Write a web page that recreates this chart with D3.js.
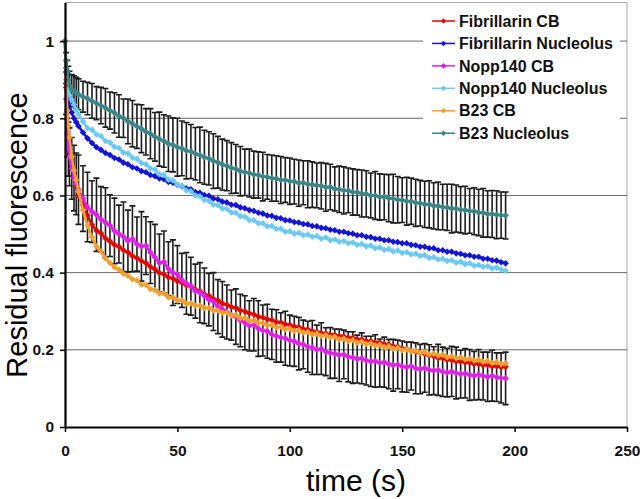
<!DOCTYPE html>
<html><head><meta charset="utf-8">
<script src="https://cdn.jsdelivr.net/npm/d3@7"></script>
<style>body{margin:0;background:#fff}svg{display:block}</style>
</head><body><svg id="c" width="640" height="499"></svg>
<script>
const times = [0,0.5,1,1.5,2,3,4,5,6,
8,10,12,14,16,18,20,22,24,26,28,30,32,34,36,38,40,42,44,46,48,50,52,54,56,58,60,62,64,66,68,70,72,74,76,78,80,82,84,86,88,90,92,94,96,98,100,
102,104,106,108,110,112,114,116,118,120,122,124,126,128,130,132,134,136,138,140,142,144,146,148,150,152,154,156,158,160,162,164,166,168,170,172,174,176,178,180,182,184,186,188,190,192,194,196];

const fibrillarinCB = [1,.88,.80,.75,.72,.68,.65,.625,.60,
.575,.548,.524,.509,.502,.489,.481,.472,.467,.458,.453,.443,.438,.430,.425,.415,.409,.399,.396,.388,.385,.378,.374,.367,.364,.356,.352,.344,.340,.332,.328,.320,.317,.311,.309,.302,.300,.294,.292,.286,.284,.279,.277,.272,.271,.266,.265,
.260,.259,.254,.253,.248,.247,.243,.243,.239,.239,.235,.235,.231,.231,.227,.227,.223,.223,.219,.219,.215,.214,.209,.208,.203,.202,.197,.196,.191,.190,.185,.184,.179,.178,.174,.174,.170,.170,.167,.167,.163,.164,.160,.161,.157,.158,.155,.156];

const fibrillarinNucleolus = [1,.92,.87,.845,.83,.815,.80,.79,.78,
.763,.748,.736,.725,.718,.710,.705,.697,.693,.685,.681,.673,.670,.663,.660,.653,.650,.644,.642,.635,.633,.627,.624,.618,.616,.609,.607,.601,.599,.592,.590,.584,.582,.576,.575,.569,.567,.562,.560,.555,.553,.548,.547,.542,.541,.536,.535,
.531,.530,.526,.525,.521,.520,.516,.515,.511,.510,.506,.506,.502,.501,.497,.497,.493,.492,.488,.488,.484,.484,.480,.479,.476,.476,.472,.471,.467,.467,.463,.463,.458,.458,.454,.454,.450,.449,.445,.445,.441,.441,.436,.436,.432,.431,.427,.424];

const nopp140CB = [1,.85,.76,.72,.70,.67,.645,.63,.615,
.592,.570,.558,.550,.538,.530,.522,.508,.500,.493,.482,.488,.474,.468,.470,.452,.440,.425,.428,.410,.400,.395,.380,.372,.365,.352,.348,.340,.330,.325,.312,.305,.298,.290,.286,.276,.270,.262,.265,.255,.250,.248,.240,.236,.232,.230,.224,
.222,.216,.214,.208,.206,.200,.203,.195,.192,.190,.186,.188,.182,.180,.176,.178,.172,.170,.171,.166,.168,.163,.160,.162,.157,.155,.158,.152,.150,.153,.148,.146,.148,.143,.141,.144,.140,.137,.139,.135,.133,.136,.132,.130,.133,.129,.127,.126];

const nopp140Nucleolus = [1,.93,.89,.87,.86,.848,.836,.822,.81,
.792,.774,.770,.758,.754,.741,.737,.726,.723,.711,.709,.698,.695,.684,.681,.670,.667,.655,.653,.641,.639,.628,.625,.613,.611,.600,.598,.588,.586,.576,.575,.566,.565,.556,.555,.546,.545,.536,.536,.528,.528,.520,.521,.513,.514,.506,.507,
.501,.503,.497,.499,.493,.495,.488,.491,.484,.486,.480,.482,.476,.478,.472,.474,.468,.470,.463,.465,.459,.461,.455,.457,.451,.453,.447,.449,.443,.445,.438,.440,.434,.436,.430,.432,.426,.428,.422,.424,.418,.420,.415,.417,.411,.413,.408,.405];

const b23CB = [1,.90,.82,.78,.75,.70,.665,.64,.61,
.562,.522,.492,.468,.455,.437,.425,.414,.408,.397,.392,.383,.380,.369,.368,.357,.355,.346,.346,.336,.336,.328,.328,.320,.321,.314,.315,.308,.309,.302,.302,.296,.296,.289,.290,.282,.283,.275,.276,.269,.270,.263,.265,.258,.260,.253,.255,
.249,.251,.245,.246,.240,.242,.236,.238,.232,.234,.227,.229,.223,.225,.219,.221,.215,.217,.211,.213,.207,.209,.203,.205,.199,.201,.196,.198,.192,.194,.188,.190,.185,.187,.181,.183,.178,.180,.175,.177,.172,.174,.169,.171,.166,.168,.163,.165];

const b23Nucleolus = [1,.95,.92,.90,.885,.875,.87,.866,.862,
.856,.851,.845,.839,.833,.827,.820,.814,.806,.800,.792,.786,.779,.773,.765,.760,.752,.746,.741,.734,.731,.725,.722,.716,.714,.708,.705,.699,.696,.689,.686,.680,.677,.671,.669,.663,.660,.658,.654,.653,.649,.648,.645,.644,.640,.640,.637,
.636,.632,.633,.629,.628,.626,.625,.621,.622,.617,.616,.613,.613,.609,.608,.605,.604,.600,.600,.596,.596,.593,.592,.589,.588,.585,.585,.581,.580,.577,.577,.573,.573,.570,.569,.566,.566,.563,.562,.560,.559,.556,.555,.552,.552,.550,.549,.548];

const b23NucleolusErr = [0,.02,.03,.035,.037,.038,.04,.04,.04,
.04,.042,.045,.043,.047,.05,.048,
.052,.055,.05,.058,.06,.057,.062,.06,.065,.063,
.07,.068,.072,.07,.075,.071,.073,.07,.068,.072,.07,.069,.071,.067,.066,
.065,.066,.063,.064,.06,.062,.061,.06,.063,.058,.06,.059,.061,.058,.06,
.058,.06,.057,.061,.059,.058,.06,.062,.059,.057,.06,.061,.058,.06,.059,
.061,.06,.058,.062,.06,.059,.061,.063,.06,.058,.062,.06,.061,.059,.06,
.061,.06,.062,.059,.06,.063,.061,.06,.062,.058,.061,.06,.063,.06,.061,.062,.06,.061];

const nopp140CBErr = [0,.04,.06,.07,.075,.08,.085,.08,.09,
.085,.09,.08,.095,.085,.09,.08,
.085,.075,.09,.08,.085,.07,.09,.075,.08,.085,
.075,.08,.07,.085,.075,.07,.08,.075,.07,.078,.072,.068,.075,.07,.072,
.07,.065,.072,.068,.07,.065,.068,.072,.066,.07,.065,.068,.064,.07,.066,
.065,.068,.063,.066,.07,.064,.067,.062,.066,.064,.068,.063,.065,.067,.062,
.066,.063,.065,.068,.062,.065,.064,.067,.063,.066,.065,.062,.066,.064,.063,
.065,.062,.066,.064,.063,.065,.067,.062,.064,.066,.063,.065,.062,.064,.066,.063,.065,.068];

const seriesNames = ["Fibrillarin CB","Fibrillarin Nucleolus","Nopp140 CB","Nopp140 Nucleolus","B23 CB","B23 Nucleolus"];
const seriesValues = [fibrillarinCB, fibrillarinNucleolus, nopp140CB, nopp140Nucleolus, b23CB, b23Nucleolus];
const seriesErrors = [null, null, nopp140CBErr, null, null, b23NucleolusErr];
const seriesColors = ["#e00a0a","#1414d6","#e020e8","#6cc9f2","#f0a030","#3d8585"];
const yTicks = [0,0.2,0.4,0.6,0.8,1];
const yTickLabels = ["0","0.2","0.4","0.6","0.8","1"];
const xTicks = [0,50,100,150,200,250];
const xTickLabels = ["0","50","100","150","200","250"];
const xTitle = "time (s)";
const yTitle = "Residual fluorescence";

const FONT = "'Liberation Sans', Arial, Helvetica, sans-serif";
const svg = d3.select("#c");
const x = d3.scaleLinear().domain([0,250]).range([65,627]);
const y = d3.scaleLinear().domain([0,1.1]).range([427,2.5]);

// plot border (top/right)
svg.append("path").attr("d", `M${x(0)},${y(1.1)}H${x(250)}V${y(0)}`)
  .attr("fill","none").attr("stroke","#a8a8a8").attr("stroke-width",1);

// gridlines
svg.append("g").selectAll("line").data(yTicks.filter(v=>v>0)).join("line")
  .attr("x1",x(0)).attr("x2",x(250)).attr("y1",d=>y(d)).attr("y2",d=>y(d))
  .attr("stroke","#6a6a6a").attr("stroke-width",1);

// legend background (covers gridlines)
const legG = svg.append("g");
legG.append("rect").attr("x",423).attr("y",6).attr("width",197).attr("height",144).attr("fill","#fff");

// error bars
const ebG = svg.append("g").attr("stroke","#1c1c1c").attr("stroke-width",1.6).attr("fill","none");
seriesValues.forEach((vals,si)=>{
  const errs = seriesErrors[si];
  if(!errs) return;
  const n = Math.min(times.length, vals.length, errs.length);
  for(let i=1;i<n;i++){
    const cx = x(times[i]), hi = y(vals[i]+errs[i]), lo = y(vals[i]-errs[i]);
    ebG.append("path").attr("d",`M${cx},${hi}V${lo}M${cx-3},${hi}H${cx+3}M${cx-3},${lo}H${cx+3}`);
  }
});

// series
const diamond = (s)=>`m0,${-s}l${s},${s}l${-s},${s}l${-s},${-s}z`;
seriesValues.forEach((vals,si)=>{
  const n = Math.min(times.length, vals.length);
  const pts = d3.range(n).map(i=>[times[i], vals[i]]);
  const g = svg.append("g");
  g.append("path").datum(pts)
    .attr("d", d3.line().x(d=>x(d[0])).y(d=>y(d[1])))
    .attr("fill","none").attr("stroke",seriesColors[si]).attr("stroke-width",2.6);
  g.selectAll("path.m").data(pts).join("path").attr("class","m")
    .attr("d",d=>`M${x(d[0])},${y(d[1])}`+diamond(3.3))
    .attr("fill",seriesColors[si]).attr("stroke","none");
});

// axes
const yAxis = svg.append("g").attr("transform",`translate(${x(0)},0)`)
  .call(d3.axisLeft(y).tickValues(yTicks).tickSize(5).tickSizeOuter(0).tickPadding(6)
    .tickFormat((d,i)=>yTickLabels[i]));
const xAxis = svg.append("g").attr("transform",`translate(0,${y(0)})`)
  .call(d3.axisBottom(x).tickValues(xTicks).tickSize(5).tickSizeOuter(0).tickPadding(13)
    .tickFormat((d,i)=>xTickLabels[i]));
[yAxis,xAxis].forEach(a=>{
  a.select(".domain").attr("stroke","#000").attr("stroke-width",2.2);
  a.selectAll(".tick line").attr("stroke","#000").attr("stroke-width",1.5);
  a.selectAll(".tick text").attr("fill","#111").style("font-family",FONT)
    .style("font-size","15.5px").style("font-weight","bold");
});

// titles
svg.append("text").attr("x",356).attr("y",491).attr("text-anchor","middle")
  .style("font-family",FONT).style("font-size","30px").attr("fill","#000").text(xTitle);
svg.append("text").attr("transform","translate(26.5,235) rotate(-90)").attr("text-anchor","middle")
  .style("font-family",FONT).style("font-size","29px").attr("fill","#000").text(yTitle);

// legend items
seriesNames.forEach((name,i)=>{
  const ly = 21 + i*22.45;
  const g = legG.append("g");
  g.append("line").attr("x1",432).attr("x2",455).attr("y1",ly).attr("y2",ly)
    .attr("stroke",seriesColors[i]).attr("stroke-width",1.5);
  g.append("path").attr("d",`M443.5,${ly}`+diamond(2.8)).attr("fill",seriesColors[i]);
  g.append("text").attr("x",459).attr("y",ly).attr("dy","0.35em")
    .style("font-family",FONT).style("font-size","16px").style("font-weight","bold")
    .attr("fill","#111").text(name);
});
</script></body></html>
